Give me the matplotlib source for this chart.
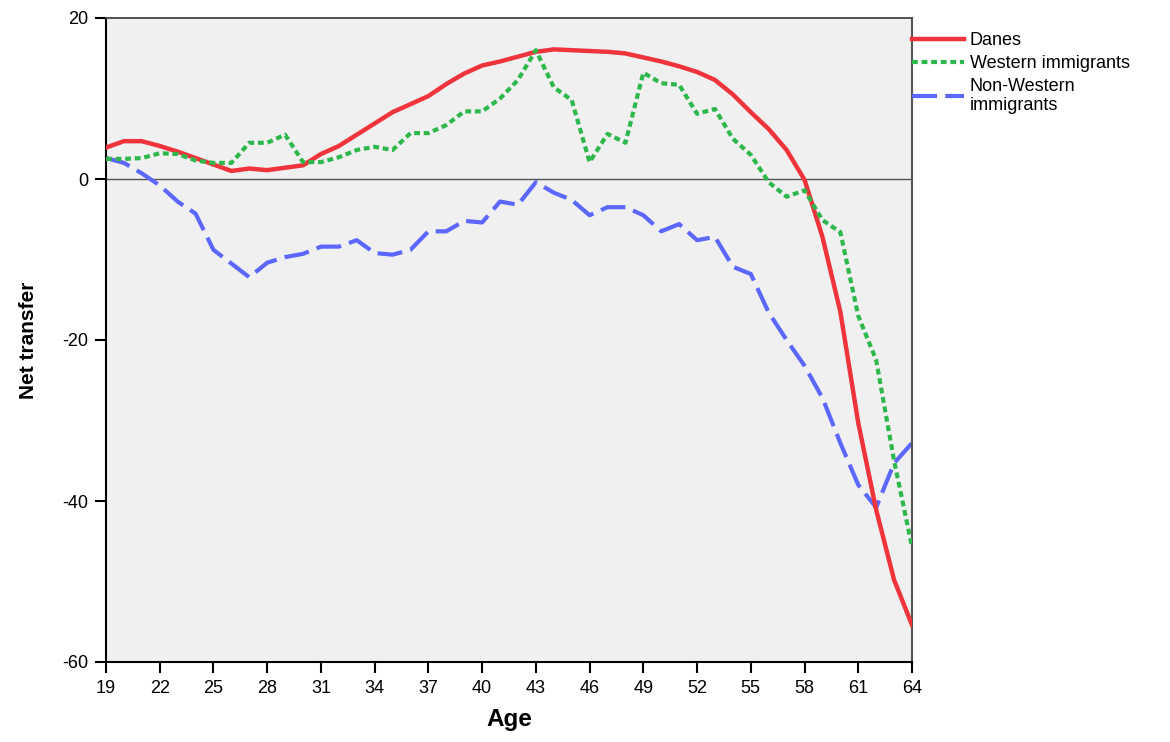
import matplotlib
matplotlib.use("Agg")
import matplotlib.pyplot as plt
import numpy as np

plt.rcParams['font.family'] = ['Liberation Sans', 'DejaVu Sans']
plt.rcParams['axes.unicode_minus'] = False

ages = list(range(19, 65))
danes = [3.9, 4.7, 4.7, 4.1, 3.4, 2.6, 1.8, 1.0, 1.3, 1.1, 1.4, 1.7,
         3.1, 4.1, 5.5, 6.9, 8.3, 9.3, 10.3, 11.8, 13.1, 14.1, 14.6, 15.2,
         15.8, 16.1, 16.0, 15.9, 15.8, 15.6, 15.1, 14.6, 14.0, 13.3, 12.3,
         10.5, 8.3, 6.2, 3.6, -0.1, -7.2, -16.5, -30.3, -41.1, -49.8, -55.4]
western = [2.5, 2.5, 2.6, 3.2, 3.1, 2.3, 2.0, 2.0, 4.5, 4.5, 5.5, 2.1,
           2.1, 2.7, 3.6, 4.0, 3.6, 5.7, 5.7, 6.7, 8.4, 8.4, 10.0, 12.3,
           16.0, 11.4, 9.8, 2.1, 5.6, 4.5, 13.2, 11.9, 11.7, 8.1, 8.7,
           5.0, 3.0, -0.4, -2.2, -1.4, -5.1, -6.6, -17.0, -22.5, -35.0, -45.7]
nonwestern = [2.6, 2.0, 0.7, -0.8, -2.8, -4.3, -8.8, -10.5, -12.2, -10.4,
              -9.7, -9.3, -8.4, -8.4, -7.6, -9.2, -9.4, -8.8, -6.5, -6.5,
              -5.2, -5.4, -2.8, -3.2, -0.4, -1.7, -2.6, -4.5, -3.5, -3.5,
              -4.5, -6.5, -5.6, -7.6, -7.2, -10.9, -11.8, -16.6, -20.0,
              -23.2, -27.2, -32.8, -38.0, -40.8, -35.3, -32.8]

labels = ["Danes", "Western immigrants", "Non-Western\nimmigrants"]
colors = ["#F0343C", "#2EB84B", "#5C67FF"]
xticks = list(range(19, 65, 3))
yticks = [-60, -40, -20, 0, 20]

fig = plt.figure(figsize=(11.7, 7.42), dpi=100)
ax = fig.add_axes([106/1170, 1 - 662/742, (912-106)/1170, (662-18)/742])
ax.set_facecolor("#F0F0F0")

ax.axhline(0, color="#555555", lw=1.0, zorder=1)
ax.plot(ages, danes, color=colors[0], lw=3.2, label=labels[0],
        solid_joinstyle='miter', zorder=3)
ax.plot(ages, western, color=colors[1], lw=3.0, label=labels[1],
        dashes=(1.4, 0.9), zorder=4)
ax.plot(ages, nonwestern, color=colors[2], lw=3.0, label=labels[2],
        dashes=(6.0, 2.0), zorder=2)

ax.set_xlim(19, 64)
ax.set_ylim(-60, 20)
ax.set_xticks(xticks)
ax.set_yticks(yticks)
ax.tick_params(axis='both', direction='out', length=8, width=1.5,
               labelsize=13, colors='black', pad=5)

for s in ['left', 'bottom']:
    ax.spines[s].set_color('black')
    ax.spines[s].set_linewidth(1.5)
ax.spines['top'].set_color('#444444')
ax.spines['top'].set_linewidth(1.3)
ax.spines['right'].set_color('#555555')
ax.spines['right'].set_linewidth(1.5)

ax.set_xlabel("Age", fontsize=17.5, fontweight='bold', labelpad=8)
ax.set_ylabel("Net transfer", fontsize=15, fontweight='bold', labelpad=17.5)

leg = ax.legend(loc='upper left', bbox_to_anchor=(1.0, 0.978),
                borderaxespad=0, borderpad=0, frameon=False,
                fontsize=13, handlelength=2.9, handletextpad=0.3,
                labelspacing=0.32)

fig.savefig("out.png", dpi=100)
